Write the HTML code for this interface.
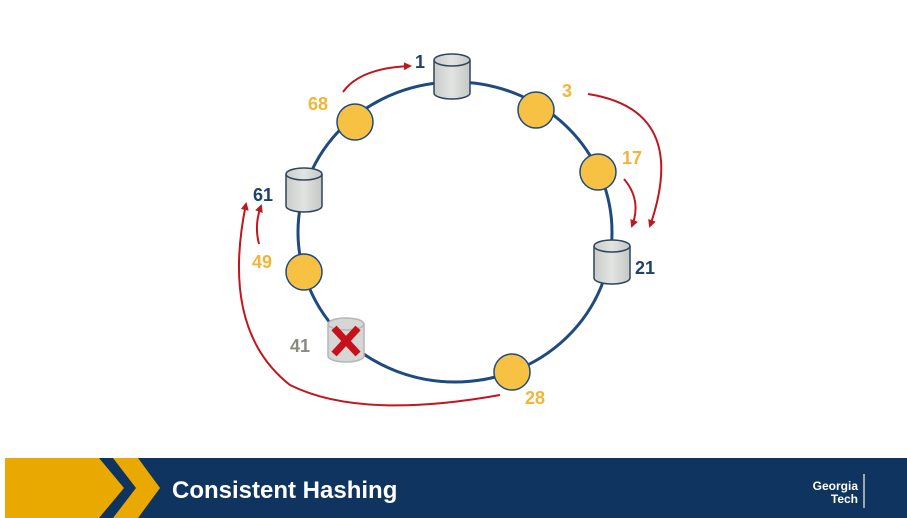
<!DOCTYPE html>
<html><head><style>
body{margin:0;width:907px;height:518px;background:#fff;overflow:hidden;font-family:"Liberation Sans",sans-serif;}
</style></head><body>
<svg width="907" height="518" viewBox="0 0 907 518" style="position:absolute;left:0;top:0">
<defs>
<marker id="ar" markerWidth="8" markerHeight="8" refX="6" refY="4" orient="auto" markerUnits="userSpaceOnUse"><path d="M0,0 L8,4 L0,8 z" fill="#c0161c"/></marker>
<linearGradient id="cyl" x1="0" x2="1"><stop offset="0" stop-color="#c9ccc8"/><stop offset=".5" stop-color="#e2e4e1"/><stop offset="1" stop-color="#c4c7c3"/></linearGradient>
</defs>
<ellipse cx="455" cy="232" rx="157" ry="150" fill="none" stroke="#1f4a7f" stroke-width="3"/>
<g fill="none" stroke="#c0161c" stroke-width="2" marker-end="url(#ar)">
<path d="M343,92 Q360,68 410,66"/>
<path d="M588,94 Q690,110 650,226"/>
<path d="M624,179 Q642,200 632,226"/>
<path d="M259,244 Q254,225 261,206"/>
<path d="M500,395 Q360,420 290,385 Q220,330 246,204"/>
</g>
<g stroke="#2e4560" stroke-width="1.5" fill="url(#cyl)">
<path d="M434,60 v33 a18,6 0 0 0 36,0 v-33"/><ellipse cx="452" cy="60" rx="18" ry="6"/>
<path d="M286,174 v32 a18,6 0 0 0 36,0 v-32"/><ellipse cx="304" cy="174" rx="18" ry="6"/>
<path d="M594,246 v32 a18,6 0 0 0 36,0 v-32"/><ellipse cx="612" cy="246" rx="18" ry="6"/>
</g>
<g stroke="#b5b5b5" stroke-width="1.5" fill="#d6d6d6">
<path d="M328,324 v32 a18,6 0 0 0 36,0 v-32"/><ellipse cx="346" cy="324" rx="18" ry="6"/>
</g>
<g stroke="#c8101a" stroke-width="7" stroke-linecap="butt"><line x1="334" y1="328" x2="358" y2="354"/><line x1="358" y1="328" x2="334" y2="354"/></g>
<g fill="#f7c244" stroke="#1f4a7f" stroke-width="1.5">
<circle cx="355" cy="122" r="18"/><circle cx="536" cy="110" r="18"/><circle cx="598" cy="172" r="18"/><circle cx="304" cy="272" r="18"/><circle cx="512" cy="372" r="18"/>
</g>
<g font-family="Liberation Sans,sans-serif" font-weight="bold" font-size="18">
<text x="308" y="110" fill="#f3b535">68</text>
<text x="415" y="68" fill="#1f3f6e">1</text>
<text x="562" y="97" fill="#f3b535">3</text>
<text x="622" y="164" fill="#f3b535">17</text>
<text x="635" y="274" fill="#1f3f6e">21</text>
<text x="253" y="201" fill="#1f3f6e">61</text>
<text x="252" y="268" fill="#f3b535">49</text>
<text x="290" y="352" fill="#8a8a80">41</text>
<text x="525" y="404" fill="#f3b535">28</text>
</g>
<rect x="5" y="458" width="902" height="60" fill="#0f3460"/>
<polygon points="5,458 99,458 124,488 99,518 5,518" fill="#e9a900"/>
<polygon points="113,458 138,458 160,488 138,518 113,518 136,488" fill="#e9a900"/>
<text x="172" y="498" fill="#fff" font-family="Liberation Sans,sans-serif" font-weight="bold" font-size="24">Consistent Hashing</text>
<text x="858" y="490" fill="#fff" text-anchor="end" font-family="Liberation Sans,sans-serif" font-weight="bold" font-size="12">Georgia</text>
<text x="858" y="503" fill="#fff" text-anchor="end" font-family="Liberation Sans,sans-serif" font-weight="bold" font-size="12">Tech</text>
<line x1="864" y1="474" x2="864" y2="508" stroke="#ccc" stroke-width="1.5"/>
</svg>
</body></html>
